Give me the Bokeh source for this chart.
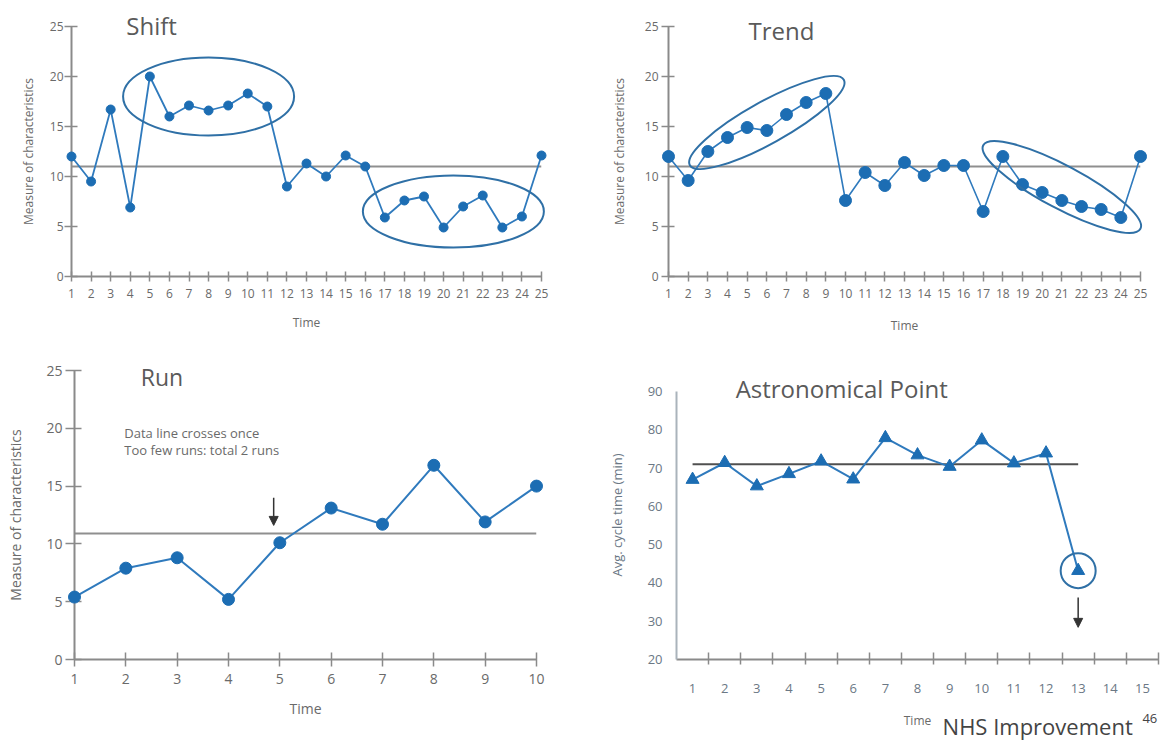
from bokeh.plotting import figure
from bokeh.layouts import column, row
from bokeh.models import Range1d, FixedTicker, Arrow, NormalHead
from bokeh.core.properties import value
from bokeh.embed import file_html
from bokeh.resources import INLINE

# ---------------- data ----------------
shift_time = list(range(1, 26))
shift_values = [12, 9.5, 16.7, 6.9, 20, 16, 17.1, 16.6, 17.1, 18.3, 17, 9.0, 11.3,
                10.0, 12.1, 11.0, 5.9, 7.6, 8.0, 4.9, 7.0, 8.1, 4.9, 6.0, 12.1]
shift_center = 11.0
shift_groups = [(5, 11), (17, 24)]

trend_time = list(range(1, 26))
trend_values = [12, 9.6, 12.5, 13.9, 14.9, 14.6, 16.2, 17.4, 18.3, 7.6, 10.4, 9.1, 11.4,
                10.1, 11.1, 11.1, 6.5, 12.0, 9.2, 8.4, 7.6, 7.0, 6.7, 5.9, 12.0]
trend_center = 11.0
trend_groups = [(3, 9), (18, 24)]

run_time = list(range(1, 11))
run_values = [5.4, 7.9, 8.8, 5.2, 10.1, 13.1, 11.7, 16.8, 11.9, 15.0]
run_center = 10.9
run_notes = ["Data line crosses once", "Too few runs: total 2 runs"]

astro_time = list(range(1, 14))
astro_values = [67.0, 71.4, 65.3, 68.5, 71.8, 67.1, 77.9, 73.4, 70.4, 77.3, 71.3, 73.9, 43.2]
astro_center = 71.0
astro_ticks = list(range(1, 16))

measure_ticks = [0, 5, 10, 15, 20, 25]
astro_y_ticks = [20, 30, 40, 50, 60, 70, 80, 90]

# ---------------- style ----------------
FONT = "Open Sans"
BLUE = "#1c6db3"
LBLUE = "#2f7abd"
ELL = "#2f70a6"
AXIS = "#8a8a8a"
TXT = "#6a6a6a"
TITLE = "#5a5a5a"


def base_fig(w, h, xr, yr, left, right, top, bottom):
    p = figure(width=w, height=h, x_range=Range1d(*xr), y_range=Range1d(*yr),
               output_backend="svg", toolbar_location=None, title=None,
               min_border_left=left, min_border_right=right,
               min_border_top=top, min_border_bottom=bottom)
    p.outline_line_color = None
    p.xgrid.grid_line_color = None
    p.ygrid.grid_line_color = None
    p.background_fill_color = "white"
    for ax in (p.xaxis[0], p.yaxis[0]):
        ax.axis_line_color = AXIS
        ax.axis_line_width = 2
        ax.major_tick_line_color = AXIS
        ax.major_tick_line_width = 1.5
        ax.minor_tick_line_color = None
        ax.major_label_text_color = TXT
        ax.major_label_text_font = FONT
        ax.axis_label_text_font = FONT
        ax.axis_label_text_color = TXT
        ax.axis_label_text_font_style = "normal"
    return p


def add_text(p, text, x, y, size, color, y_offset=0):
    p.text(x=[x], y=[y], text=[text], y_offset=y_offset, text_font=value(FONT),
           text_font_size=size, text_color=color, text_baseline="middle",
           text_align="left", level="overlay")


def measure_panel(p, xs, ys, center, ticks_x, tick_font, label_font, msize, lw):
    p.xaxis.ticker = FixedTicker(ticks=ticks_x)
    p.yaxis.ticker = FixedTicker(ticks=measure_ticks)
    p.xaxis.axis_label = "Time"
    p.yaxis.axis_label = "Measure of characteristics"
    p.xaxis.major_label_text_font_size = tick_font
    p.yaxis.major_label_text_font_size = tick_font
    p.xaxis.axis_label_text_font_size = label_font
    p.yaxis.axis_label_text_font_size = label_font
    p.line([xs[0], xs[-1]], [center, center], line_color="#8f8f8f", line_width=2)
    p.line(xs, ys, line_color=LBLUE, line_width=lw, level="overlay")
    p.scatter(xs, ys, size=msize, fill_color=BLUE, line_color=BLUE, level="overlay")


def group_ellipses(p, xs, ys, groups, widths, heights, angles):
    cx, cy = [], []
    for a, b in groups:
        gx = [x for x in xs if a <= x <= b]
        gy = [y for x, y in zip(xs, ys) if a <= x <= b]
        cx.append((min(gx) + max(gx)) / 2)
        cy.append((min(gy) + max(gy)) / 2)
    p.ellipse(x=cx, y=cy, width=widths, height=heights, angle=angles,
              width_units="screen", height_units="screen",
              fill_color=None, line_color=ELL, line_width=2, level="overlay")


# ---------------- Shift ----------------
p1 = base_fig(588, 343, (1, 25), (0, 25), 71, 47, 26, 67)
measure_panel(p1, shift_time, shift_values, shift_center, shift_time, "12px", "12px", 9, 1.8)
p1.xaxis.major_tick_in = 5
p1.xaxis.major_tick_out = 5
p1.yaxis.major_tick_in = 6
p1.yaxis.major_tick_out = 7
p1.xaxis.major_label_standoff = 7
p1.xaxis.axis_label_standoff = 13
p1.yaxis.major_label_standoff = 1
p1.yaxis.axis_label_standoff = 10
group_ellipses(p1, shift_time, shift_values, shift_groups, [171, 181], [78, 72], [0, 0])
add_text(p1, "Shift", 3.8, 25.1, "24px", TITLE)

# ---------------- Trend ----------------
p2 = base_fig(588, 343, (1, 25), (0, 25), 80, 36, 26, 67)
measure_panel(p2, trend_time, trend_values, trend_center, trend_time, "12px", "12px", 12, 1.6)
p2.xaxis.major_tick_in = 5
p2.xaxis.major_tick_out = 5
p2.yaxis.major_tick_in = 6
p2.yaxis.major_tick_out = 7
p2.xaxis.major_label_standoff = 7
p2.xaxis.axis_label_standoff = 16
p2.yaxis.major_label_standoff = 3
p2.yaxis.axis_label_standoff = 14
group_ellipses(p2, trend_time, trend_values, trend_groups, [176, 178], [42, 43], [0.506, -0.489])
add_text(p2, "Trend", 5.07, 24.6, "24px", TITLE)

# ---------------- Run ----------------
p3 = base_fig(588, 397, (1, 10), (0, 25), 74, 52, 27, 81)
measure_panel(p3, run_time, run_values, run_center, run_time, "14px", "14px", 12, 2)
p3.xaxis.major_tick_in = 7
p3.xaxis.major_tick_out = 7
p3.yaxis.major_tick_in = 7
p3.yaxis.major_tick_out = 9
p3.xaxis.major_label_standoff = 7
p3.xaxis.axis_label_standoff = 12
p3.yaxis.major_label_standoff = 3
p3.yaxis.axis_label_standoff = 18
add_text(p3, "Run", 2.29, 24.4, "23px", TITLE)
add_text(p3, run_notes[0], 1.97, 19.6, "13px", TXT)
add_text(p3, run_notes[1], 1.97, 18.1, "13px", TXT)
p3.add_layout(Arrow(end=NormalHead(size=9, fill_color="#333333", line_color="#333333"),
                    x_start=4.88, y_start=14.0, x_end=4.88, y_end=11.6,
                    line_color="#333333", line_width=1.5, level="overlay"))

# ---------------- Astronomical Point ----------------
p4 = base_fig(588, 397, (0.5, 15.5), (20, 95.5), 88, 18, 27, 81)
p4.xaxis.ticker = FixedTicker(ticks=astro_ticks, minor_ticks=[t + 0.5 for t in astro_ticks])
p4.xaxis.major_tick_in = 0
p4.xaxis.major_tick_out = 0
p4.xaxis.minor_tick_line_color = AXIS
p4.xaxis.minor_tick_line_width = 1.5
p4.xaxis.minor_tick_in = 7
p4.xaxis.minor_tick_out = 5
p4.xaxis.major_label_standoff = 19
p4.xaxis.axis_label = "Time"
p4.xaxis.axis_label_standoff = 16
p4.xaxis.major_label_text_font_size = "13px"
p4.xaxis.axis_label_text_font_size = "12px"
p4.xaxis.major_label_text_color = "#6b7885"
p4.yaxis.ticker = FixedTicker(ticks=astro_y_ticks)
p4.yaxis.bounds = (20, 90)
p4.yaxis.major_tick_in = 0
p4.yaxis.major_tick_out = 0
p4.yaxis.axis_line_color = "#aab3bb"
p4.yaxis.major_label_standoff = 14
p4.yaxis.major_label_text_font_size = "13px"
p4.yaxis.major_label_text_color = "#6b7885"
p4.yaxis.axis_label = "Avg. cycle time (min)"
p4.yaxis.axis_label_standoff = 19
p4.yaxis.axis_label_text_font_size = "13px"
p4.yaxis.axis_label_text_color = "#6b7885"
p4.line([astro_time[0], astro_time[-1]], [astro_center, astro_center],
        line_color="#505050", line_width=2)
p4.line(astro_time, astro_values, line_color=LBLUE, line_width=2, level="overlay")
p4.scatter(astro_time, astro_values, marker="triangle", size=13,
           fill_color=BLUE, line_color=BLUE, level="overlay")
p4.scatter([astro_time[-1]], [astro_values[-1]], marker="circle", size=35,
           fill_color=None, line_color=ELL, line_width=2, level="overlay")
p4.add_layout(Arrow(end=NormalHead(size=9, fill_color="#333333", line_color="#333333"),
                    x_start=astro_time[-1], y_start=36.2, x_end=astro_time[-1], y_end=28.4,
                    line_color="#333333", line_width=1.5, level="overlay"))
add_text(p4, "Astronomical Point", 2.34, 90.8, "24px", TITLE)
add_text(p4, "NHS Improvement", 8.78, 20, "22px", "#444444", 66)
add_text(p4, "46", 15.0, 20, "13px", "#444444", 59)

layout = column(row(p1, p2), row(p3, p4))

with open("out.html", "w") as f:
    f.write(file_html(layout, INLINE))
